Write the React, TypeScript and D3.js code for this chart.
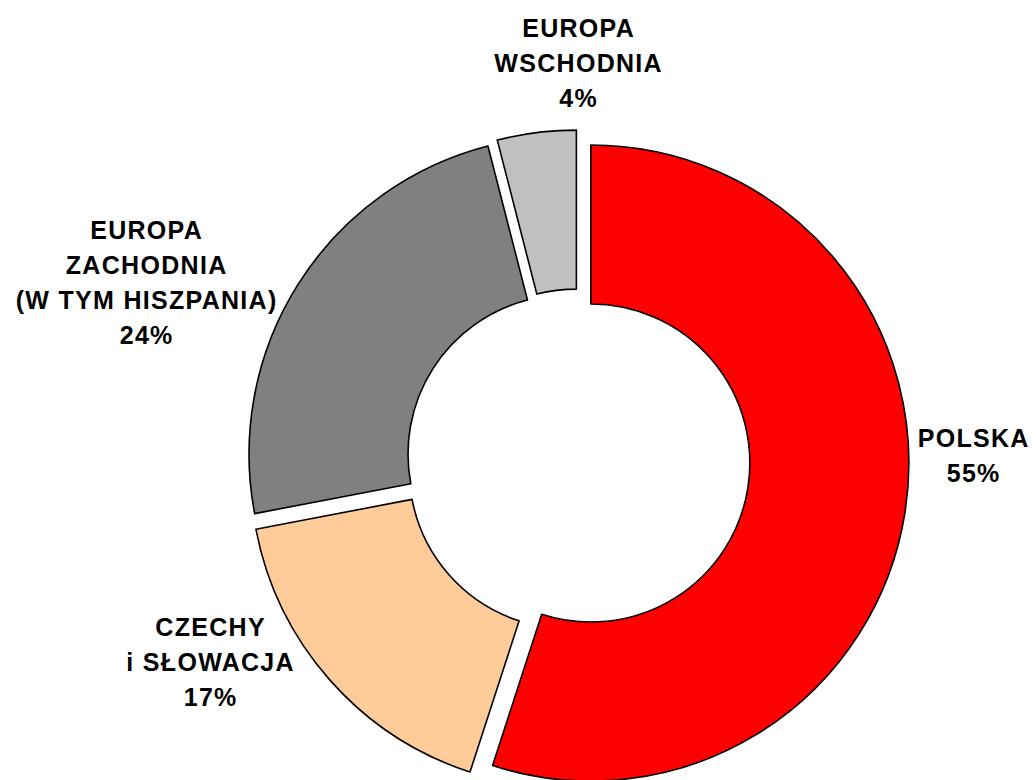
import React, { useEffect, useRef } from 'react';
import * as d3 from 'd3';

// regions, clockwise from 12 o'clock
const categories = ['POLSKA', 'CZECHY i SŁOWACJA', 'EUROPA ZACHODNIA (W TYM HISZPANIA)', 'EUROPA WSCHODNIA'];
const values = [55, 17, 24, 4];
const colors = ['#FF0000', '#FFCC99', '#808080', '#C0C0C0'];
// label lines as they are wrapped in the original
const labelLines = [
  ['POLSKA', '55%'],
  ['CZECHY', 'i SŁOWACJA', '17%'],
  ['EUROPA', 'ZACHODNIA', '(W TYM HISZPANIA)', '24%'],
  ['EUROPA', 'WSCHODNIA', '4%'],
];

const WIDTH = 1036;
const HEIGHT = 780;

export default function App() {
  const svgRef = useRef<SVGSVGElement>(null);

  useEffect(() => {
    if (!svgRef.current) return;
    const svg = d3.select(svgRef.current);
    svg.selectAll('*').remove();

    const cx = 578;
    const cy = 461;
    const outerR = 318;
    const innerR = 159;
    const explode = 13;

    const pie = d3.pie<number>().sort(null).startAngle(0).endAngle(2 * Math.PI);
    const arcs = pie(values);
    const arc = d3.arc<d3.PieArcDatum<number>>().innerRadius(innerR).outerRadius(outerR);

    const g = svg.append('g').attr('transform', `translate(${cx},${cy})`);

    g.selectAll('path')
      .data(arcs)
      .join('path')
      .attr('transform', d => {
        const mid = (d.startAngle + d.endAngle) / 2;
        return `translate(${explode * Math.sin(mid)},${-explode * Math.cos(mid)})`;
      })
      .attr('d', arc)
      .attr('fill', (_, i) => colors[i])
      .attr('stroke', '#000')
      .attr('stroke-width', 1.6)
      .attr('stroke-linejoin', 'round');

    // label block centres (placed by hand in the source chart)
    const labelAt = [
      { x: 973, y: 455 },
      { x: 210, y: 662 },
      { x: 146, y: 282 },
      { x: 578, y: 63 },
    ];
    const lineH = 35;
    const spacing = 1.3;

    categories.forEach((c, i) => {
      const lines = labelLines[i];
      const top = labelAt[i].y - ((lines.length - 1) * lineH) / 2;
      const t = svg.append('text')
        .attr('text-anchor', 'middle')
        .attr('font-family', 'Arial, "Liberation Sans", sans-serif')
        .attr('font-weight', 'bold')
        .attr('font-size', 25)
        .attr('letter-spacing', spacing)
        .attr('fill', '#000')
        .attr('data-category', c);
      lines.forEach((ln, j) => {
        t.append('tspan')
          .attr('x', labelAt[i].x + spacing / 2)
          .attr('y', top + j * lineH)
          .attr('dy', '0.36em')
          .text(ln);
      });
    });
  }, []);

  return (
    <svg
      ref={svgRef}
      width={WIDTH}
      height={HEIGHT}
      style={{ position: 'absolute', left: 0, top: 0, background: '#fff' }}
    />
  );
}
